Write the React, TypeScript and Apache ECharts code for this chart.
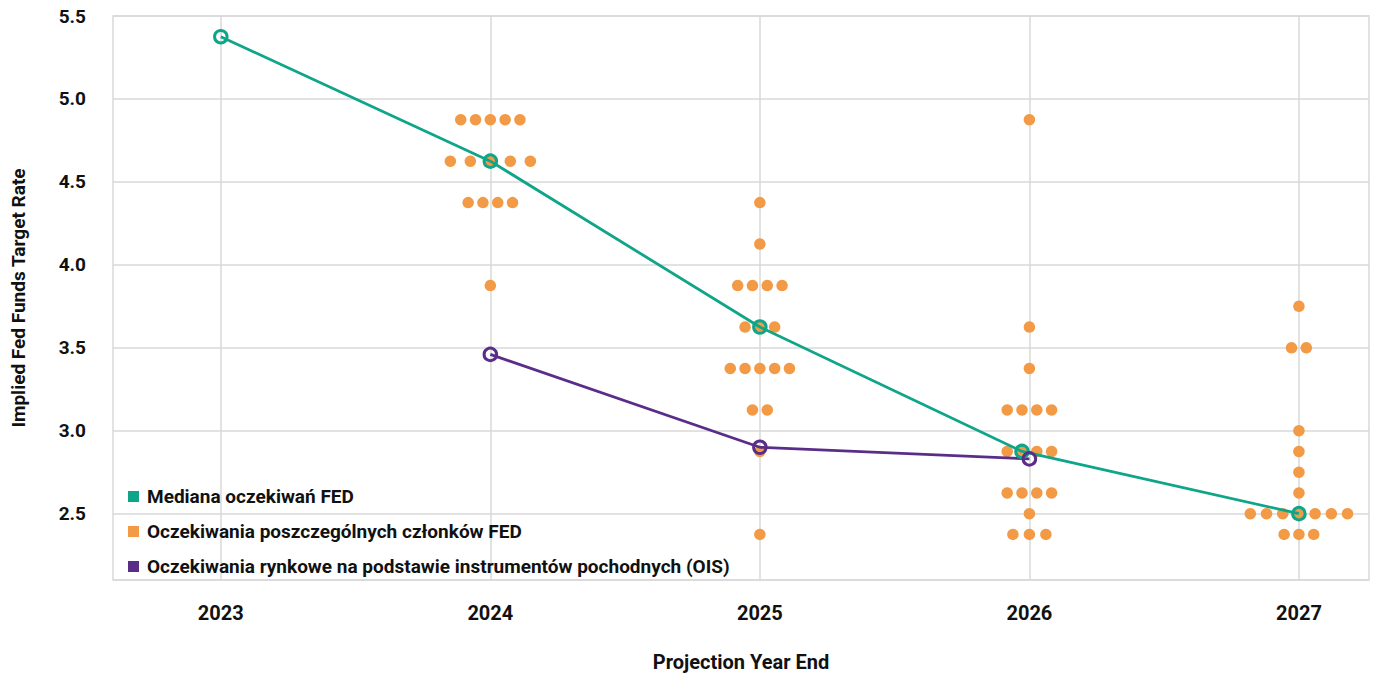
import React, { useEffect, useRef } from "react";
import * as echarts from "echarts";

// ---------- data ----------
const YEARS = [2023, 2024, 2025, 2026, 2027];
const MEDIAN = [5.375, 4.625, 3.625, 2.875, 2.5];
const OIS_YEARS = [2024, 2025, 2026];
const OIS = [3.46, 2.9, 2.83];
const Y_TICKS_MIN = 2.1;
const Y_TICKS_MAX = 5.5;

// individual FOMC members' projections: [rate, number of members]
const DOTS_2024 = [[4.875, 5], [4.625, 5], [4.375, 4], [3.875, 1]];
const DOTS_2025 = [[4.375, 1], [4.125, 1], [3.875, 4], [3.625, 3], [3.375, 5], [3.125, 2], [2.875, 1], [2.375, 1]];
const DOTS_2026 = [[4.875, 1], [3.625, 1], [3.375, 1], [3.125, 4], [2.875, 4], [2.625, 4], [2.5, 1], [2.375, 3]];
const DOTS_2027 = [[3.75, 1], [3.5, 2], [3.0, 1], [2.875, 1], [2.75, 1], [2.625, 1], [2.5, 7], [2.375, 3]];
const DOTS_BY_YEAR: Record<number, number[][]> = { 2024: DOTS_2024, 2025: DOTS_2025, 2026: DOTS_2026, 2027: DOTS_2027 };

const NAME_MEDIAN = "Mediana oczekiwań FED";
const NAME_DOTS = "Oczekiwania poszczególnych członków FED";
const NAME_OIS = "Oczekiwania rynkowe na podstawie instrumentów pochodnych (OIS)";
const X_NAME = "Projection Year End";
const Y_NAME = "Implied Fed Funds Target Rate";

// ---------- layout / style ----------
const W = 1376;
const H = 673;
const GRID = { left: 113, right: 7, top: 16, bottom: 93 };
const X_MIN = 2022.6;
const X_MAX = 2027.26;
const DOT_SPACING_PX = 14.8;
const ROW_SPACING_PX: Record<string, number> = { "2024|4.625": 20, "2026|2.375": 16.5, "2027|2.5": 16.2 };
const TEAL = "#0fa588";
const ORANGE = "#f29a45";
const PURPLE = "#5a2d88";
const GRIDC = "#d9d9d9";
const FONT = "Roboto";
const TXT = "#111111";

const pxPerYear = (W - GRID.left - GRID.right) / (X_MAX - X_MIN);

function dotPositions(year: number, rate: number, count: number): number[] {
  const sp = (ROW_SPACING_PX[`${year}|${rate}`] ?? DOT_SPACING_PX) / pxPerYear;
  const out: number[] = [];
  for (let i = 0; i < count; i++) out.push(year + (i - (count - 1) / 2) * sp);
  return out;
}

function buildDots(): number[][] {
  const pts: number[][] = [];
  for (const y of YEARS) {
    const rows = DOTS_BY_YEAR[y] || [];
    for (const [rate, n] of rows) {
      for (const x of dotPositions(y, rate, n)) pts.push([x, rate]);
    }
  }
  return pts;
}

function buildMedian(): number[][] {
  return YEARS.map((y, i) => {
    const rate = MEDIAN[i];
    const row = (DOTS_BY_YEAR[y] || []).find((r) => r[0] === rate);
    if (!row) return [y, rate];
    const xs = dotPositions(y, rate, row[1]);
    return [xs[Math.floor((row[1] - 1) / 2)], rate];
  });
}

export default function App() {
  const ref = useRef<HTMLDivElement>(null);
  useEffect(() => {
    if (!ref.current) return;
    const chart = echarts.init(ref.current, null, { renderer: "svg" });
    const bold = { fontFamily: FONT, fontWeight: "bold" as const, color: TXT };
    chart.setOption({
      animation: false,
      backgroundColor: "#ffffff",
      textStyle: { fontFamily: FONT },
      grid: { ...GRID, show: true, borderColor: GRIDC, borderWidth: 1.5, containLabel: false, outerBoundsMode: "none" },
      legend: {
        orient: "vertical",
        left: 123,
        top: 482,
        icon: "rect",
        itemWidth: 11,
        itemHeight: 11,
        itemGap: 16,
        textStyle: { ...bold, fontSize: 19, padding: [0, 0, 0, 3] },
        data: [
          { name: NAME_MEDIAN, itemStyle: { color: TEAL, borderWidth: 0 } },
          { name: NAME_DOTS, itemStyle: { color: ORANGE, borderWidth: 0 } },
          { name: NAME_OIS, itemStyle: { color: PURPLE, borderWidth: 0 } },
        ],
      },
      xAxis: {
        type: "value",
        min: X_MIN,
        max: X_MAX,
        axisLine: { show: false },
        axisTick: { show: false },
        splitLine: { show: false },
        axisLabel: { ...bold, fontSize: 20, margin: 23, customValues: YEARS, formatter: (v: number) => String(Math.round(v)) },
        name: X_NAME,
        nameLocation: "middle",
        nameGap: 72,
        nameTextStyle: { ...bold, fontSize: 20 },
      },
      yAxis: {
        type: "value",
        min: Y_TICKS_MIN,
        max: Y_TICKS_MAX,
        minInterval: 0.5,
        maxInterval: 0.5,
        axisLine: { show: false },
        axisTick: { show: false },
        splitLine: { show: true, lineStyle: { color: GRIDC, width: 1.5 } },
        axisLabel: { ...bold, fontSize: 19, margin: 27, showMinLabel: false, formatter: (v: number) => v.toFixed(1) },
        name: Y_NAME,
        nameLocation: "middle",
        nameRotate: 90,
        nameGap: 85,
        nameTextStyle: { ...bold, fontSize: 19 },
      },
      series: [
        {
          name: NAME_DOTS,
          type: "scatter",
          data: buildDots(),
          symbol: "circle",
          symbolSize: 11.5,
          itemStyle: { color: ORANGE, opacity: 1 },
          z: 3,
          markLine: {
            silent: true,
            symbol: ["none", "none"],
            label: { show: false },
            lineStyle: { color: GRIDC, width: 1.5, type: "solid" },
            z: 1,
            data: YEARS.map((y) => ({ xAxis: y })),
          },
        },
        {
          name: NAME_MEDIAN,
          type: "line",
          data: buildMedian(),
          symbol: "circle",
          symbolSize: 12.5,
          showAllSymbol: true,
          lineStyle: { color: TEAL, width: 2.8 },
          itemStyle: { color: "rgba(0,0,0,0)", borderColor: TEAL, borderWidth: 3 },
          z: 4,
        },
        {
          name: NAME_OIS,
          type: "line",
          data: OIS_YEARS.map((y, i) => [y, OIS[i]]),
          symbol: "circle",
          symbolSize: 12.5,
          showAllSymbol: true,
          lineStyle: { color: PURPLE, width: 2.8 },
          itemStyle: { color: "rgba(0,0,0,0)", borderColor: PURPLE, borderWidth: 3 },
          z: 4,
        },
      ],
    });
    return () => chart.dispose();
  }, []);
  return <div ref={ref} style={{ position: "absolute", left: 0, top: 0, width: W, height: H }} />;
}
